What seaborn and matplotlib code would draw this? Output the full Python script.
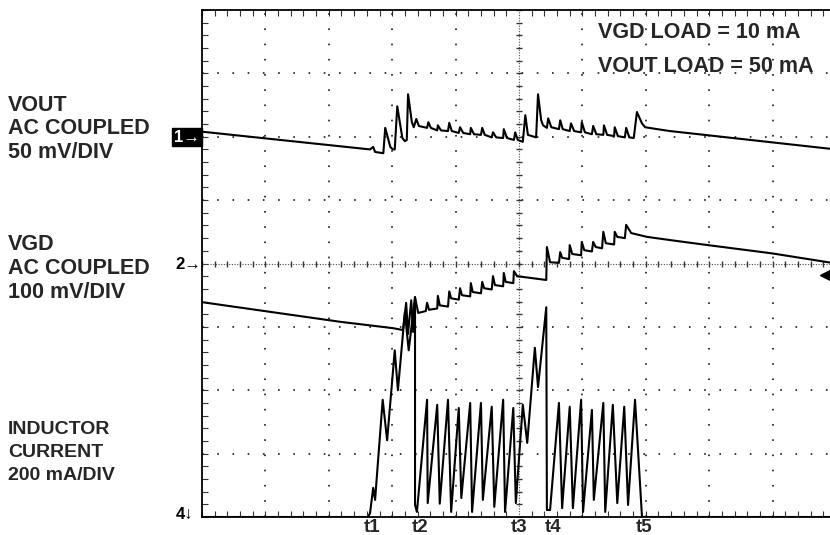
import numpy as np
import pandas as pd
import matplotlib
matplotlib.use("Agg")
import matplotlib.pyplot as plt
from matplotlib.ticker import MultipleLocator
import seaborn as sns

# Scope screen: time in divisions (0..10), level in divisions (0..8, from the bottom)
vout_t = [0.00, 2.65, 2.70, 2.73, 2.86, 2.89, 2.97, 3.01, 3.04, 3.08, 3.16, 3.20, 3.23, 3.25, 3.31, 3.34,
          3.38, 3.42, 3.55, 3.57, 3.61, 3.71, 3.72, 3.77, 3.88, 3.90, 3.94, 4.05, 4.07, 4.12,
          4.23, 4.24, 4.29, 4.40, 4.42, 4.46, 4.57, 4.59, 4.64, 4.75, 4.76, 4.81, 4.92, 4.94, 4.98,
          5.06, 5.10, 5.14, 5.27, 5.30, 5.35, 5.38, 5.44, 5.46, 5.51, 5.63, 5.65, 5.69, 5.80, 5.82, 5.87,
          5.98, 5.99, 6.04, 6.15, 6.17, 6.22, 6.33, 6.34, 6.39, 6.50, 6.51, 6.56, 6.67, 6.69, 6.74,
          6.81, 6.86, 6.94, 6.99, 7.18, 7.38, 10.0]
vout_v = [6.08, 5.80, 5.84, 5.76, 5.74, 6.14, 5.84, 5.80, 5.80, 6.48, 5.98, 5.93, 5.95, 6.67, 6.23, 6.15,
          6.28, 6.17, 6.14, 6.23, 6.14, 6.10, 6.18, 6.10, 6.09, 6.22, 6.09, 6.06, 6.15, 6.06,
          6.04, 6.14, 6.04, 6.03, 6.14, 6.03, 5.99, 6.07, 5.99, 5.98, 6.12, 5.98, 5.95, 6.07, 5.95,
          5.92, 6.34, 6.03, 5.99, 6.67, 6.26, 6.18, 6.14, 6.29, 6.15, 6.12, 6.26, 6.12, 6.09, 6.21, 6.09,
          6.07, 6.23, 6.07, 6.04, 6.17, 6.04, 6.03, 6.18, 6.03, 6.01, 6.15, 6.01, 5.99, 6.14, 5.99,
          5.98, 6.39, 6.21, 6.15, 6.12, 6.09, 5.80]

vgd_t = [0.00, 2.18, 3.01, 3.17, 3.22, 3.25, 3.30, 3.33, 3.36, 3.41, 3.53,
         3.55, 3.58, 3.71, 3.72, 3.75, 3.88, 3.90, 3.93, 4.05, 4.07, 4.10, 4.23,
         4.24, 4.27, 4.40, 4.42, 4.45, 4.57, 4.59, 4.62, 4.75, 4.76, 4.79, 4.91,
         4.92, 4.97, 5.43, 5.44, 5.49, 5.63, 5.65, 5.68, 5.79, 5.80, 5.84, 5.98,
         5.99, 6.03, 6.15, 6.17, 6.21, 6.31, 6.33, 6.37, 6.50, 6.51, 6.55, 6.67,
         6.69, 6.77, 7.02, 7.38, 7.98, 8.99, 10.0]
vgd_v = [3.39, 3.08, 2.98, 2.95, 3.38, 2.89, 3.42, 2.92, 3.47, 3.22, 3.25,
         3.38, 3.27, 3.29, 3.49, 3.34, 3.32, 3.56, 3.45, 3.43, 3.61, 3.50, 3.48,
         3.69, 3.55, 3.53, 3.71, 3.61, 3.59, 3.80, 3.66, 3.64, 3.85, 3.71, 3.69,
         3.88, 3.80, 3.74, 4.26, 4.02, 4.01, 4.18, 4.09, 4.07, 4.29, 4.15, 4.13,
         4.34, 4.21, 4.19, 4.34, 4.26, 4.24, 4.50, 4.32, 4.30, 4.50, 4.42, 4.40,
         4.61, 4.48, 4.42, 4.37, 4.29, 4.16, 4.00]

il_t = [0.00, 2.62, 2.65, 2.70, 2.73, 2.85, 2.92, 3.04, 3.09, 3.20, 3.26, 3.36, 3.36, 3.39,
        3.55, 3.56, 3.71, 3.75, 3.88, 3.93, 4.05, 4.09, 4.23, 4.26, 4.40, 4.43, 4.57, 4.61,
        4.75, 4.78, 4.91, 4.95, 5.06, 5.13, 5.25, 5.30, 5.43, 5.44, 5.49,
        5.63, 5.68, 5.80, 5.85, 5.98, 6.01, 6.15, 6.18, 6.33, 6.36, 6.48, 6.55, 6.66, 6.72,
        6.83, 6.94, 10.0]
il_v = [0.00, 0.00, 0.06, 0.46, 0.27, 1.85, 1.21, 2.63, 2.00, 3.23, 2.63, 3.47, 0.19, 0.08,
        1.85, 0.22, 1.77, 0.21, 1.85, 0.08, 1.72, 0.30, 1.80, 0.08, 1.80, 0.27, 1.74, 0.16,
        1.85, 0.08, 1.72, 0.22, 1.77, 1.17, 2.67, 2.05, 3.31, 0.11, 0.11,
        1.80, 0.14, 1.74, 0.14, 1.85, 0.08, 1.69, 0.27, 1.80, 0.08, 1.77, 0.22, 1.74, 0.19,
        1.85, 0.00, 0.00]

time_marks = [2.68, 3.44, 5.00, 5.54, 6.97]
time_names = ["t1", "t2", "t3", "t4", "t5"]
trig_level = 3.82

left_labels = [["VOUT", "AC COUPLED", "50 mV/DIV"],
               ["VGD", "AC COUPLED", "100 mV/DIV"],
               ["INDUCTOR", "CURRENT", "200 mA/DIV"]]
load_labels = ["VGD LOAD = 10 mA", "VOUT LOAD = 50 mA"]

df = pd.concat([
    pd.DataFrame({"trace": "vout", "t": vout_t, "v": vout_v}),
    pd.DataFrame({"trace": "vgd", "t": vgd_t, "v": vgd_v}),
    pd.DataFrame({"trace": "il", "t": il_t, "v": il_v}),
])

sns.set_style("white")
plt.rcParams['font.family'] = ['Liberation Sans', 'DejaVu Sans']
plt.rcParams['font.weight'] = 'bold'

W, H = 830, 535
fig = plt.figure(figsize=(W / 100, H / 100), dpi=100)
ax = fig.add_axes([202 / W, 18 / H, 634 / W, 507 / H])
ax.set_xlim(0, 10)
ax.set_ylim(0, 8)

# graticule
dot = (0, (1.0, 8.13))
for k in range(1, 10):
    if k != 5:
        ax.plot([k, k], [0, 8], ls=dot, lw=1.2, color='0.1', zorder=1)
for k in range(1, 8):
    if k != 4:
        ax.plot([0, 10], [k, k], ls=dot, lw=1.2, color='0.1', zorder=1)
ax.plot([5, 5], [0, 8], ls=(0, (1, 1.4)), lw=0.8, color='0.3', zorder=1)
ax.plot([0, 10], [4, 4], ls=(0, (1, 1.4)), lw=0.8, color='0.3', zorder=1)
ax.plot(np.full(41, 5.0), np.arange(0, 8.01, 0.2), ls='none', marker='_', ms=5, mew=1, color='0.2', zorder=1)
ax.plot(np.arange(0, 10.01, 0.2), np.full(51, 4.0), ls='none', marker='|', ms=5, mew=1, color='0.2', zorder=1)

sns.lineplot(data=df, x="t", y="v", units="trace", estimator=None, sort=False,
             color='black', lw=1.5, ax=ax, zorder=3)

for s in ax.spines.values():
    s.set_color('black')
    s.set_linewidth(1.3)

ax.set_xlabel("")
ax.set_ylabel("")
ax.set_yticks([])
ax.set_xticks(time_marks, time_names, fontsize=13.5, fontweight='bold')
ax.xaxis.set_minor_locator(MultipleLocator(0.2))
ax.yaxis.set_minor_locator(MultipleLocator(0.2))
ax.tick_params(which='major', length=0, pad=1.5)
ax.tick_params(which='minor', direction='in', length=4, width=0.8, color='0.2',
               top=True, bottom=True, left=True, right=True)

# trigger level marker
ax.plot([9.87], [trig_level], marker='<', ms=11, color='black', clip_on=False, zorder=4)

# channel markers
fig.text(174 / W, 1 - 137 / H, "1\u2192", color='white', fontsize=12, fontweight='bold', va='center',
         bbox=dict(facecolor='black', edgecolor='black', pad=1.2))
fig.text(175 / W, 1 - 265 / H, "2\u2192", color='black', fontsize=12, fontweight='bold', va='center')
fig.text(176 / W, 1 - 514 / H, "4\u2193", color='black', fontsize=12, fontweight='bold', va='center')

# left side labels
for block, y0, fs in zip(left_labels, [105.5, 245, 429], [15.5, 15.5, 14]):
    for i, line in enumerate(block):
        fig.text(8 / W, 1 - (y0 + 23.5 * i) / H, line, fontsize=fs, fontweight='bold', va='center')

for i, line in enumerate(load_labels):
    fig.text(598 / W, 1 - (32 + 35 * i) / H, line, fontsize=15.5, fontweight='bold', va='center')

fig.savefig("out.png", dpi=100)
